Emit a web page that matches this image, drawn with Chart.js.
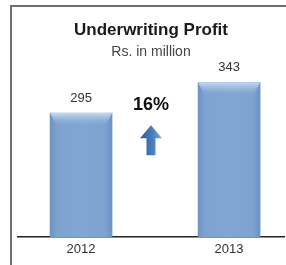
<!DOCTYPE html>
<html>
<head>
<meta charset="utf-8">
<script src="https://cdn.jsdelivr.net/npm/chart.js@4/dist/chart.umd.min.js"></script>
<style>
  html, body { margin: 0; padding: 0; background: #fff; }
  #wrap { position: relative; width: 286px; height: 265px; }
  #frame {
    position: absolute; left: 10px; top: 5px; right: 0; bottom: 0;
    border-left: 2px solid #6e6e6e; border-top: 2px solid #6e6e6e;
  }
  canvas { position: absolute; left: 0; top: 0; }
</style>
</head>
<body>
<div id="wrap">
  <div id="frame"></div>
  <canvas id="chart" width="286" height="265"></canvas>
</div>
<script>
const years = [2012, 2013];
const profit = [295, 343];
const growthLabel = '16%';

const FONT = '"Liberation Sans", Arial, sans-serif';

// bar fill: darker edges, lighter middle
function barFill(context) {
  const chart = context.chart;
  const xScale = chart.scales.x;
  if (!xScale || context.dataIndex === undefined) return '#7ea2d0';
  const cx = xScale.getPixelForValue(years[context.dataIndex]);
  if (!isFinite(cx)) return '#7ea2d0';
  const g = chart.ctx.createLinearGradient(cx - 31, 0, cx + 31, 0);
  g.addColorStop(0, '#6c93c6');
  g.addColorStop(0.12, '#7ea3d1');
  g.addColorStop(0.5, '#82a6d3');
  g.addColorStop(0.88, '#7ea3d1');
  g.addColorStop(1, '#6c93c6');
  return g;
}

// value labels, bevel on top of bars, growth text and arrow
const extras = {
  id: 'extras',
  afterDatasetsDraw(chart) {
    const ctx = chart.ctx;
    const meta = chart.getDatasetMeta(0);
    ctx.save();
    meta.data.forEach((bar, i) => {
      const half = bar.width / 2;
      const bevel = ctx.createLinearGradient(0, bar.y, 0, bar.y + 12);
      bevel.addColorStop(0, '#c4dbf3');
      bevel.addColorStop(1, 'rgba(150,185,225,0)');
      ctx.fillStyle = bevel;
      ctx.beginPath();
      ctx.moveTo(bar.x - half, bar.y);
      ctx.lineTo(bar.x + half, bar.y);
      ctx.lineTo(bar.x + half - 6, bar.y + 12);
      ctx.lineTo(bar.x - half + 6, bar.y + 12);
      ctx.closePath();
      ctx.fill();

      ctx.fillStyle = '#333';
      ctx.font = '13px ' + FONT;
      ctx.textAlign = 'center';
      ctx.textBaseline = 'middle';
      ctx.fillText(String(profit[i]), bar.x, bar.y - 15);
    });

    const area = chart.chartArea;
    const cx = (area.left + area.right) / 2;
    ctx.fillStyle = '#111';
    ctx.font = 'bold 18px ' + FONT;
    ctx.textAlign = 'center';
    ctx.textBaseline = 'middle';
    ctx.fillText(growthLabel, cx, area.top + 45);

    const top = area.top + 65;
    const g = ctx.createLinearGradient(cx - 10, 0, cx + 10, 0);
    g.addColorStop(0, '#2d5c98');
    g.addColorStop(0.6, '#4a80c2');
    g.addColorStop(1, '#77a5da');
    ctx.fillStyle = g;
    ctx.beginPath();
    ctx.moveTo(cx, top);
    ctx.lineTo(cx + 11, top + 13);
    ctx.lineTo(cx + 4.5, top + 13);
    ctx.lineTo(cx + 4.5, top + 30);
    ctx.lineTo(cx - 4.5, top + 30);
    ctx.lineTo(cx - 4.5, top + 13);
    ctx.lineTo(cx - 11, top + 13);
    ctx.closePath();
    ctx.fill();
    ctx.restore();
  }
};

new Chart(document.getElementById('chart'), {
  type: 'bar',
  data: {
    labels: years,
    datasets: [{
      data: profit,
      backgroundColor: barFill,
      borderWidth: 0,
      barThickness: 62
    }]
  },
  options: {
    responsive: false,
    animation: false,
    layout: { padding: { left: 18, right: 2, top: 0, bottom: 4 } },
    plugins: {
      legend: { display: false },
      tooltip: { enabled: false },
      title: {
        display: true,
        text: 'Underwriting Profit',
        color: '#1a1a1a',
        font: { family: FONT, size: 17, weight: 'bold' },
        padding: { top: 20, bottom: 0 }
      },
      subtitle: {
        display: true,
        text: 'Rs. in million',
        color: '#444',
        font: { family: FONT, size: 14 },
        padding: { top: 3, bottom: 0 }
      }
    },
    scales: {
      x: {
        type: 'linear',
        offset: false,
        min: 2011.574,
        max: 2013.371,
        afterBuildTicks: (scale) => { scale.ticks = years.map(v => ({ value: v })); },
        afterFit: (scale) => { scale.height = 24; },
        ticks: {
          color: '#333',
          font: { family: FONT, size: 13 },
          padding: 5,
          maxRotation: 0,
          callback: (v) => String(v)
        },
        grid: { display: false, drawTicks: false },
        border: { display: true, color: '#222', width: 1.5 }
      },
      y: {
        display: false,
        min: 100,
        max: 378
      }
    }
  },
  plugins: [extras]
});
</script>
</body>
</html>
